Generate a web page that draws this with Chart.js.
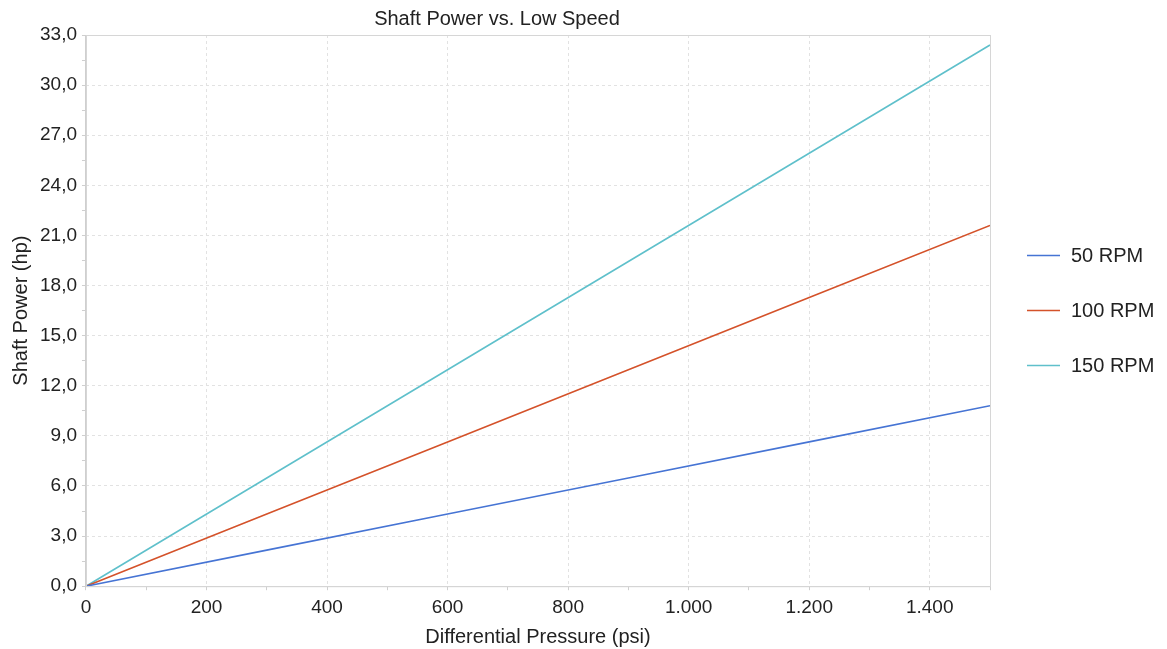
<!DOCTYPE html>
<html>
<head>
<meta charset="utf-8">
<script src="https://cdn.jsdelivr.net/npm/chart.js@4/dist/chart.umd.min.js"></script>
<style>
  html, body { margin: 0; padding: 0; background: #fff; }
  #wrap { width: 1167px; height: 649px; }
</style>
</head>
<body>
<div id="wrap"><canvas id="myChart" width="1167" height="649"></canvas></div>
<script>
'use strict';

// differential pressure (psi) and shaft power (hp)
const pressure = [0, 300, 600, 900, 1200, 1500];
const rpm50 = [0, 2.16, 4.32, 6.48, 8.64, 10.8];
const rpm100 = [0, 4.32, 8.64, 12.96, 17.28, 21.6];
const rpm150 = [0, 6.48, 12.96, 19.44, 25.92, 32.4];
const seriesNames = ['50 RPM', '100 RPM', '150 RPM'];
const seriesColors = ['#4674d4', '#d4522a', '#5fc0cb'];

const font = '"Liberation Sans", Arial, sans-serif';

const toPoints = function(ys){
  return pressure.map((x, i) => ({ x: x, y: ys[i] }));
};

// thin grey frame round the plot + the legend on the right
const extras = {
  id: 'extras',
  afterDraw(chart){
    const a = chart.chartArea;
    const c = chart.ctx;
    c.save();
    c.strokeStyle = '#d6d6d6';
    c.lineWidth = 1;
    c.strokeRect(a.left + 0.5, a.top + 0.5, a.right - a.left, a.bottom - a.top);

    c.font = '20px ' + font;
    c.textBaseline = 'middle';
    c.fillStyle = '#222';
    chart.data.datasets.forEach(function(ds, i){
      const y = 255 + i * 55;
      c.strokeStyle = ds.borderColor;
      c.lineWidth = 1.6;
      c.beginPath();
      c.moveTo(1027, y + 0.5);
      c.lineTo(1060, y + 0.5);
      c.stroke();
      c.fillText(ds.label, 1071, y + 1);
    });
    c.restore();
  }
};

const ctx = document.getElementById('myChart').getContext('2d');
const chart = new Chart(ctx, {
  type: 'line',
  data: {
    datasets: [{
      label: seriesNames[0],
      data: toPoints(rpm50),
      borderColor: seriesColors[0],
    },
    {
      label: seriesNames[1],
      data: toPoints(rpm100),
      borderColor: seriesColors[1],
    },
    {
      label: seriesNames[2],
      data: toPoints(rpm150),
      borderColor: seriesColors[2],
    }]
  },
  options: {
    responsive: false,
    animation: false,
    layout: { padding: { left: 4, right: 177, top: 0, bottom: 0 } },
    elements: {
      point: { radius: 0 },
      line: { borderWidth: 1.6, tension: 0 }
    },
    plugins: {
      title: {
        display: true,
        text: 'Shaft Power vs. Low Speed',
        color: '#222',
        font: { family: font, size: 20, weight: 'normal' },
        padding: { top: 7, bottom: 4 }
      },
      legend: { display: false },
      tooltip: { enabled: false }
    },
    scales: {
      x: {
        type: 'linear',
        min: 0,
        max: 1500,
        ticks: {
          stepSize: 100,
          color: '#222',
          font: { family: font, size: 19 },
          maxRotation: 0,
          autoSkip: false,
          padding: 6,
          callback: function(v){
            if (v % 200 !== 0) return '';
            return v.toString().replace(/\B(?=(\d{3})+(?!\d))/g, '.');
          }
        },
        grid: {
          color: c => (c.tick && c.tick.value % 200 === 0 ? '#e2e2e2' : 'transparent'),
          tickColor: '#cfcfcf',
          tickLength: 4
        },
        border: { color: '#cfcfcf', dash: [3, 3] },
        title: {
          display: true,
          text: 'Differential Pressure (psi)',
          color: '#222',
          font: { family: font, size: 20 },
          padding: { top: 0, bottom: 0 }
        }
      },
      y: {
        min: 0,
        max: 33,
        ticks: {
          stepSize: 1.5,
          color: '#222',
          font: { family: font, size: 19 },
          autoSkip: false,
          padding: 5,
          callback: function(v){
            if (Math.round(v * 10) % 30 !== 0) return '';
            return v.toFixed(1).replace('.', ',');
          }
        },
        grid: {
          color: c => (c.tick && Math.round(c.tick.value * 10) % 30 === 0 ? '#e2e2e2' : 'transparent'),
          tickColor: '#cfcfcf',
          tickLength: 4
        },
        border: { color: '#cfcfcf', dash: [3, 3] },
        title: {
          display: true,
          text: 'Shaft Power (hp)',
          color: '#222',
          font: { family: font, size: 20 },
          padding: { top: 5, bottom: 2 }
        }
      }
    }
  },
  plugins: [extras]
});
</script>
</body>
</html>
